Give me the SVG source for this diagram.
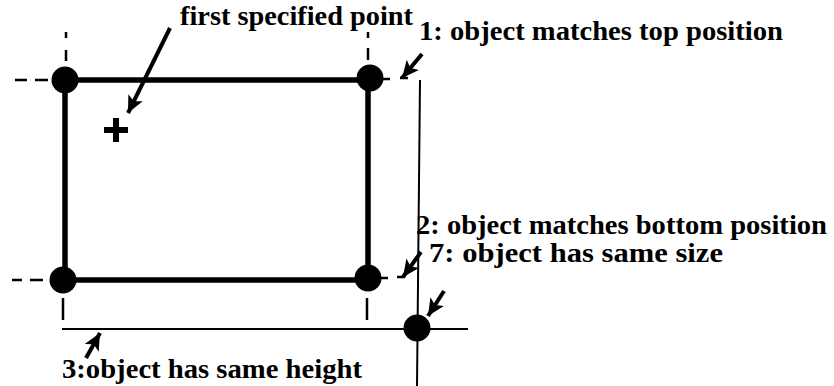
<svg xmlns="http://www.w3.org/2000/svg" width="834" height="386" viewBox="0 0 834 386">
<style>
.edge{stroke:#000;stroke-width:5.5;fill:none}
.thin{stroke:#000;stroke-width:2;fill:none}
.dash{stroke:#000;stroke-width:2.5;fill:none}
.arr{stroke:#000;stroke-width:4;fill:none}
.dot{fill:#000}
</style>
<defs>
<marker id="ah" markerUnits="userSpaceOnUse" markerWidth="20" markerHeight="18" refX="17" refY="8" orient="auto">
<path d="M0,0 L17,8 L0,16 L4,8 Z" fill="#000"/>
</marker>
</defs>
<rect width="834" height="386" fill="#fff"/>
<g id="guides">
<path class="dash" d="M15,80 H27 M35,80 H48 M66,32 V38 M66,50 V61 M368,32 V38 M368,48 V60 M383,79 H390 M400,78 H408"/>
<path class="dash" d="M12,280 H22 M30,280 H43 M63,298 V320 M367,298 V320 M381,278 H388 M397,277 H405"/>
<path class="thin" d="M62,329 H468"/>
<path class="thin" d="M420,80 L417,386"/>
</g>
<g id="rectangle">
<path class="edge" d="M65,80 H370 M65,80 V280 M368,80 V278 M63,280 H368"/>
<circle class="dot" cx="65" cy="80" r="13.5"/>
<circle class="dot" cx="370" cy="78" r="13.5"/>
<circle class="dot" cx="63" cy="280" r="13.5"/>
<circle class="dot" cx="368" cy="278" r="13.5"/>
</g>
<g id="first-point">
<path d="M116,118 V142 M104,130 H128" stroke="#000" stroke-width="6" fill="none"/>
<text x="180" y="25" font-family="Liberation Serif, serif" font-weight="bold" font-size="27" textLength="233" lengthAdjust="spacingAndGlyphs">first specified point</text>
</g>
<g id="same-size-point">
<circle class="dot" cx="417" cy="328" r="13.5"/>
</g>
<g id="labels" font-family="Liberation Serif, serif" font-weight="bold" font-size="27">
<text x="419" y="40" textLength="364" lengthAdjust="spacingAndGlyphs">1: object matches top position</text>
<text x="416" y="234" textLength="411" lengthAdjust="spacingAndGlyphs">2: object matches bottom position</text>
<text x="429" y="262" textLength="294" lengthAdjust="spacingAndGlyphs">7: object has same size</text>
<text x="62" y="378" textLength="300" lengthAdjust="spacingAndGlyphs">3:object has same height</text>
</g>
<g id="connectors">
<path class="arr" marker-end="url(#ah)" d="M170,28 L128,113"/>
<path class="arr" marker-end="url(#ah)" d="M422,54 L402,78"/>
<path class="arr" marker-end="url(#ah)" d="M421,252 L403,277"/>
<path class="arr" marker-end="url(#ah)" d="M444,291 L428,316"/>
<path class="arr" marker-end="url(#ah)" d="M86,358 L100,333"/>
</g>
</svg>
